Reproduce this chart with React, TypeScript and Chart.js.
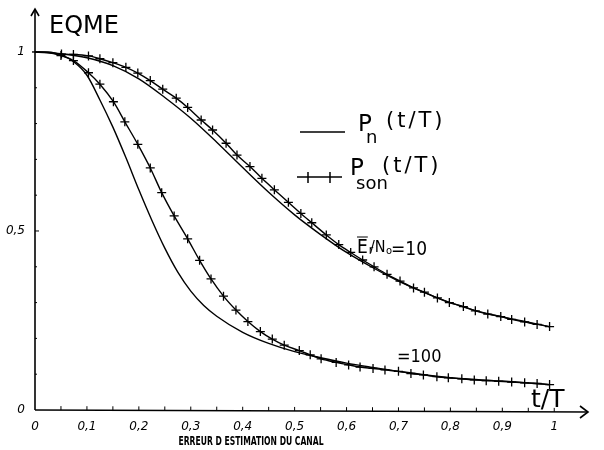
import React, { useEffect, useRef } from 'react';
import { Chart, registerables } from 'chart.js';

Chart.register(...registerables);

// Axis ticks
const xTickValues = [0, 0.1, 0.2, 0.3, 0.4, 0.5, 0.6, 0.7, 0.8, 0.9, 1];
const xTickLabels = ['0', '0,1', '0,2', '0,3', '0,4', '0,5', '0,6', '0,7', '0,8', '0,9', '1'];
const xMinorTicks = [0.05, 0.1, 0.15, 0.2, 0.25, 0.3, 0.35, 0.4, 0.45, 0.5, 0.55, 0.6, 0.65, 0.7, 0.75, 0.8, 0.85, 0.9, 0.95, 1];
const yTickValues = [0, 0.5, 1];
const yTickLabels = ['0', '0,5', '1'];
const yMinorTicks = [0.1, 0.2, 0.3, 0.4, 0.5, 0.6, 0.7, 0.8, 0.9];

// Er/No = 10 : Pn (solid)
const pn10X = [0, 0.05, 0.1, 0.15, 0.2, 0.25, 0.3, 0.35, 0.4, 0.45, 0.5, 0.55, 0.6, 0.65, 0.7, 0.75, 0.8, 0.85, 0.9, 0.95, 0.99];
const pn10Y = [1, 0.995, 0.984, 0.962, 0.925, 0.873, 0.815, 0.748, 0.677, 0.608, 0.545, 0.49, 0.44, 0.398, 0.36, 0.328, 0.3, 0.277, 0.26, 0.245, 0.233];

// Er/No = 10 : Pson (crosses)
const pson10X = [0, 0.025, 0.051, 0.074, 0.103, 0.125, 0.15, 0.175, 0.198, 0.222, 0.246, 0.272, 0.294, 0.32, 0.342, 0.368, 0.389, 0.414, 0.437, 0.461, 0.488, 0.512, 0.533, 0.561, 0.585, 0.608, 0.631, 0.653, 0.678, 0.703, 0.729, 0.75, 0.775, 0.798, 0.825, 0.848, 0.872, 0.897, 0.918, 0.943, 0.967, 0.991];
const pson10Y = [1, 1, 0.994, 0.993, 0.989, 0.981, 0.97, 0.957, 0.941, 0.92, 0.896, 0.871, 0.845, 0.81, 0.782, 0.745, 0.712, 0.68, 0.647, 0.615, 0.58, 0.549, 0.523, 0.489, 0.462, 0.44, 0.419, 0.4, 0.379, 0.36, 0.341, 0.329, 0.313, 0.3, 0.289, 0.277, 0.268, 0.261, 0.253, 0.246, 0.239, 0.233];

// Er/No = 100 : Pn (solid)
const pn100X = [0, 0.03, 0.05, 0.075, 0.1, 0.125, 0.15, 0.175, 0.2, 0.225, 0.25, 0.275, 0.3, 0.325, 0.35, 0.4, 0.45, 0.5, 0.55, 0.6, 0.65, 0.7, 0.8, 0.9, 0.991];
const pn100Y = [1, 0.998, 0.992, 0.972, 0.935, 0.866, 0.79, 0.705, 0.615, 0.53, 0.452, 0.385, 0.332, 0.292, 0.262, 0.217, 0.186, 0.163, 0.146, 0.131, 0.119, 0.108, 0.09, 0.081, 0.071];

// Er/No = 100 : Pson (crosses)
const pson100X = [0, 0.025, 0.05, 0.074, 0.103, 0.125, 0.151, 0.173, 0.198, 0.222, 0.244, 0.268, 0.294, 0.317, 0.339, 0.363, 0.387, 0.41, 0.434, 0.457, 0.48, 0.509, 0.53, 0.551, 0.58, 0.604, 0.626, 0.651, 0.674, 0.7, 0.724, 0.748, 0.774, 0.796, 0.822, 0.846, 0.869, 0.893, 0.918, 0.943, 0.967, 0.991];
const pson100Y = [1, 0.998, 0.99, 0.976, 0.942, 0.91, 0.861, 0.805, 0.742, 0.676, 0.607, 0.542, 0.478, 0.418, 0.366, 0.318, 0.279, 0.247, 0.219, 0.198, 0.181, 0.166, 0.154, 0.143, 0.133, 0.126, 0.12, 0.116, 0.112, 0.108, 0.102, 0.098, 0.093, 0.09, 0.087, 0.084, 0.082, 0.08, 0.078, 0.076, 0.074, 0.071];

const toPts = (xs: number[], ys: number[]) => xs.map((x, i) => ({ x, y: ys[i] }));

const FONT = '"DejaVu Sans", "Liberation Sans", sans-serif';
const NARROW = '"Liberation Sans Narrow", "DejaVu Sans Condensed", sans-serif';

const decorPlugin = {
  id: 'decor',
  beforeDatasetsDraw(chart: any) {
    const ctx = chart.ctx;
    const xs = chart.scales.x;
    const ys = chart.scales.y;
    const x0 = xs.getPixelForValue(0);
    const y0 = ys.getPixelForValue(0);
    const ca = chart.chartArea;
    ctx.save();
    ctx.strokeStyle = '#000';
    ctx.fillStyle = '#000';
    ctx.lineWidth = 1.6;
    // x axis
    ctx.beginPath();
    ctx.moveTo(x0, y0);
    ctx.lineTo(ca.right, y0 + 2);
    ctx.stroke();
    ctx.beginPath();
    ctx.moveTo(ca.right - 8, y0 - 4);
    ctx.lineTo(ca.right, y0 + 2);
    ctx.lineTo(ca.right - 8, y0 + 8);
    ctx.stroke();
    // y axis
    ctx.beginPath();
    ctx.moveTo(x0, y0);
    ctx.lineTo(x0, ca.top);
    ctx.stroke();
    ctx.beginPath();
    ctx.moveTo(x0 - 4, ca.top + 7);
    ctx.lineTo(x0, ca.top);
    ctx.lineTo(x0 + 4, ca.top + 7);
    ctx.stroke();
    // minor ticks
    ctx.lineWidth = 1;
    xMinorTicks.forEach((v) => {
      const px = xs.getPixelForValue(v);
      const py = y0 + 2 * (v / 1.065);
      ctx.beginPath();
      ctx.moveTo(px, py);
      ctx.lineTo(px, py - 4);
      ctx.stroke();
    });
    yMinorTicks.forEach((v) => {
      const py = ys.getPixelForValue(v);
      ctx.beginPath();
      ctx.moveTo(x0, py);
      ctx.lineTo(x0 + (v === 0.5 ? 4 : 2), py);
      ctx.stroke();
    });
    // short stub at y = 1
    ctx.lineWidth = 1.4;
    ctx.beginPath();
    ctx.moveTo(x0 - 3, ys.getPixelForValue(1));
    ctx.lineTo(x0, ys.getPixelForValue(1));
    ctx.stroke();
    ctx.restore();
  },
  afterDraw(chart: any) {
    const ctx = chart.ctx;
    ctx.save();
    ctx.fillStyle = '#000';
    ctx.strokeStyle = '#000';
    ctx.textBaseline = 'alphabetic';
    ctx.textAlign = 'left';

    // y axis title
    ctx.font = `24px ${FONT}`;
    ctx.fillText('EQME', 49, 33, 78);

    // x axis title
    ctx.font = `bold 12px ${NARROW}`;
    ctx.textAlign = 'center';
    ctx.fillText('ERREUR D ESTIMATION DU CANAL', 251, 445, 145);
    ctx.textAlign = 'left';

    // t/T at the end of x axis
    ctx.font = `25px ${FONT}`;
    ctx.fillText('t/T', 531, 407);

    // legend: solid line
    ctx.lineWidth = 1.5;
    ctx.beginPath();
    ctx.moveTo(300, 132);
    ctx.lineTo(345, 132);
    ctx.stroke();
    ctx.font = `23px ${FONT}`;
    ctx.fillText('P', 358, 131);
    ctx.font = `18px ${FONT}`;
    ctx.fillText('n', 366, 143);
    ctx.font = `21px ${FONT}`;
    (ctx as any).letterSpacing = '3px';
    ctx.fillText('(t/T)', 386, 127);
    (ctx as any).letterSpacing = '0px';

    // legend: crossed line
    ctx.beginPath();
    ctx.moveTo(297, 177);
    ctx.lineTo(342, 177);
    ctx.moveTo(308, 172);
    ctx.lineTo(308, 183);
    ctx.moveTo(330, 172);
    ctx.lineTo(330, 183);
    ctx.stroke();
    ctx.font = `23px ${FONT}`;
    ctx.fillText('P', 350, 175);
    ctx.font = `18px ${FONT}`;
    ctx.fillText('son', 356, 189);
    ctx.font = `21px ${FONT}`;
    (ctx as any).letterSpacing = '3px';
    ctx.fillText('(t/T)', 382, 172);
    (ctx as any).letterSpacing = '0px';

    // curve labels
    ctx.font = `19px ${NARROW}`;
    ctx.fillText('E', 357, 253);
    const eW = ctx.measureText('E').width;
    ctx.lineWidth = 1;
    ctx.beginPath();
    ctx.moveTo(357, 237);
    ctx.lineTo(357 + eW, 237);
    ctx.stroke();
    ctx.font = `12px ${NARROW}`;
    ctx.fillText('r', 357 + eW + 1, 254);
    ctx.font = `16px ${NARROW}`;
    ctx.fillText('/N', 370, 252);
    ctx.font = `11px ${NARROW}`;
    ctx.fillText('o', 386, 254);
    ctx.font = `19px ${NARROW}`;
    ctx.fillText('=10', 391, 255);

    ctx.font = `18px ${NARROW}`;
    ctx.fillText('=100', 397, 362);
    ctx.restore();
  },
};

export default function App() {
  const ref = useRef<HTMLCanvasElement | null>(null);
  useEffect(() => {
    document.body.style.margin = '0';
    const canvas = ref.current;
    if (!canvas) return;
    const crossRadius = (c: any) => (c.raw && c.raw.x < 0.04 ? 0 : 4.5);
    const chart = new Chart(canvas, {
      type: 'line',
      data: {
        datasets: [
          {
            label: 'Pn Er/No=10',
            data: toPts(pn10X, pn10Y),
            borderColor: '#000',
            borderWidth: 1.4,
            pointRadius: 0,
            cubicInterpolationMode: 'monotone',
            fill: false,
          },
          {
            label: 'Pson Er/No=10',
            data: toPts(pson10X, pson10Y),
            borderColor: '#000',
            borderWidth: 1.4,
            pointStyle: 'cross',
            pointRadius: crossRadius,
            pointBorderWidth: 1.3,
            pointBorderColor: '#000',
            cubicInterpolationMode: 'monotone',
            fill: false,
          },
          {
            label: 'Pn Er/No=100',
            data: toPts(pn100X, pn100Y),
            borderColor: '#000',
            borderWidth: 1.4,
            pointRadius: 0,
            cubicInterpolationMode: 'monotone',
            fill: false,
          },
          {
            label: 'Pson Er/No=100',
            data: toPts(pson100X, pson100Y),
            borderColor: '#000',
            borderWidth: 1.4,
            pointStyle: 'cross',
            pointRadius: crossRadius,
            pointBorderWidth: 1.3,
            pointBorderColor: '#000',
            cubicInterpolationMode: 'monotone',
            fill: false,
          },
        ],
      },
      options: {
        animation: false,
        responsive: false,
        devicePixelRatio: 1,
        layout: { padding: { left: 0, top: 9, right: 16, bottom: 0 } },
        plugins: { legend: { display: false }, tooltip: { enabled: false }, title: { display: false } },
        scales: {
          x: {
            type: 'linear',
            min: 0,
            max: 1.065,
            grid: { display: false, drawTicks: false },
            border: { display: false },
            afterBuildTicks: (s: any) => {
              s.ticks = xTickValues.map((v) => ({ value: v }));
            },
            afterFit: (s: any) => {
              s.height = 40;
              s.paddingLeft = 0;
              s.paddingRight = 0;
            },
            ticks: {
              autoSkip: false,
              maxRotation: 0,
              padding: 10,
              color: '#000',
              font: { family: FONT, size: 12, style: 'italic' },
              callback: (_v: any, i: number) => xTickLabels[i],
            },
          },
          y: {
            type: 'linear',
            min: 0,
            max: 1.12,
            grid: { display: false, drawTicks: false },
            border: { display: false },
            afterBuildTicks: (s: any) => {
              s.ticks = yTickValues.map((v) => ({ value: v }));
            },
            afterFit: (s: any) => {
              s.width = 35;
              s.paddingTop = 0;
              s.paddingBottom = 0;
            },
            ticks: {
              autoSkip: false,
              padding: 10,
              color: '#000',
              font: { family: FONT, size: 12, style: 'italic' },
              callback: (_v: any, i: number) => yTickLabels[i],
            },
          },
        },
      },
      plugins: [decorPlugin],
    });
    return () => chart.destroy();
  }, []);
  return <canvas ref={ref} width={604} height={450} style={{ display: 'block', width: 604, height: 450 }} />;
}
